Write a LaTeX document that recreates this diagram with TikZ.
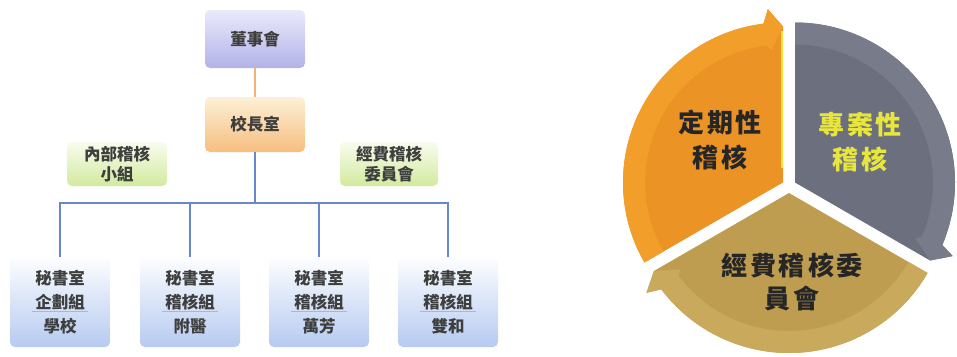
\documentclass[tikz,border=0pt]{standalone}
\usepackage{fontspec}
\newfontfamily\cjk{Noto Sans CJK TC}
\usetikzlibrary{calc}
\definecolor{txt}{RGB}{62,62,62}
\definecolor{boardT}{RGB}{234,234,252}
\definecolor{boardB}{RGB}{178,178,232}
\definecolor{prinT}{RGB}{253,240,214}
\definecolor{prinB}{RGB}{246,190,128}
\definecolor{grT}{RGB}{248,252,238}
\definecolor{grB}{RGB}{210,234,158}
\definecolor{blT}{RGB}{253,254,255}
\definecolor{blB}{RGB}{182,202,240}
\definecolor{lineO}{RGB}{244,178,120}
\definecolor{lineB}{RGB}{105,135,205}
\definecolor{sepC}{RGB}{170,182,215}
\definecolor{orIn}{RGB}{236,147,38}
\definecolor{orRim}{RGB}{242,158,42}
\definecolor{gyIn}{RGB}{108,112,126}
\definecolor{gyRim}{RGB}{120,124,138}
\definecolor{gdIn}{RGB}{190,157,80}
\definecolor{gdRim}{RGB}{201,169,92}
\definecolor{ylw}{RGB}{232,230,60}
\definecolor{ystripe}{RGB}{240,228,60}
\newcommand{\pieSeg}[5]{%
  \fill[#4] (#1) -- ($(#1)+(#2:160)$) arc[start angle=#2, end angle=#3+7, radius=160]
     -- ($(#1)+(#3+5:174)$) -- ($(#1)+(#3:156)$) -- cycle;
  \fill[#5] ($(#1)+(#2:160)$) arc[start angle=#2, end angle=#3+7, radius=160]
     -- ($(#1)+(#3+5:174)$) -- ($(#1)+(#3:156)$) -- ($(#1)+(#3+5:133)$)
     -- ($(#1)+(#3+7:138)$) arc[start angle=#3+7, end angle=#2, radius=138] -- cycle;
}
\tikzset{
  orgbox/.style={rounded corners=5pt, inner sep=0pt, align=center, text=txt,
    font=\cjk\bfseries\fontsize{16.5}{20}\selectfont, minimum width=100pt},
  topbox/.style={orgbox, top color=boardT, bottom color=boardB, minimum height=58pt},
  prinbox/.style={orgbox, top color=prinT, bottom color=prinB, minimum height=55pt},
  grbox/.style={orgbox, top color=grT, bottom color=grB, minimum height=44pt},
  secbox/.style={orgbox, top color=blT, bottom color=blB, minimum height=90pt,
    font=\cjk\bfseries\fontsize{16.5}{24}\selectfont},
  orline/.style={draw=lineO, line width=1.3pt},
  blline/.style={draw=lineB, line width=1.3pt},
  sepline/.style={draw=sepC, line width=0.6pt},
  pietext/.style={align=center, font=\cjk\bfseries\fontsize{26}{35}\selectfont, inner sep=0pt}
}
\begin{document}
\begin{tikzpicture}[x=1pt, y=-1pt]
\useasboundingbox (0,0) rectangle (957,356);
% org chart
\node[topbox] (board) at (255,39) {董事會};
\node[prinbox] (prin) at (255,124.5) {校長室};
\node[grbox] (inner) at (117,164) {內部稽核\\小組};
\node[grbox, minimum width=98pt] (fund) at (389,164) {經費稽核\\委員會};
\node[secbox] (s1) at (60,302) {秘書室\\企劃組\\學校};
\node[secbox] (s2) at (190,302) {秘書室\\稽核組\\附醫};
\node[secbox] (s3) at (319,302) {秘書室\\稽核組\\萬芳};
\node[secbox] (s4) at (448,302) {秘書室\\稽核組\\雙和};
\coordinate (hub) at (255,203);
\draw[orline] (board.south) -- (prin.north);
\draw[blline] (prin.south) -- (hub);
\foreach \s in {s1,s2,s3,s4}{
  \draw[blline] (hub) -| (\s.north);
  \draw[sepline] ([xshift=-28pt,yshift=-9pt]\s.center) -- ([xshift=28pt,yshift=-9pt]\s.center);
}
% cycle pie
\begin{scope}[shift={(789,186)}, x=1pt, y=1pt]
  \coordinate (Co) at (-6,3.5);
  \coordinate (Cg) at (6,3.5);
  \coordinate (Cd) at (0,-7);
  \pieSeg{Co}{210}{90}{orIn}{orRim}
  \pieSeg{Cg}{90}{-30}{gyIn}{gyRim}
  \pieSeg{Cd}{-30}{-150}{gdIn}{gdRim}
  \draw[ystripe, line width=1.6pt] ($(Co)+(-0.8,15)$) -- ($(Co)+(-0.8,152)$);
\end{scope}
\node[pietext, text=black!85] (t1) at (720,140) {定\kern3pt 期\kern3pt 性\\稽\kern3pt 核};
\node[pietext, text=ylw] (t2) at (860,142.5) {專\kern3pt 案\kern3pt 性\\稽\kern3pt 核};
\node[pietext, text=black!85, font=\cjk\bfseries\fontsize{26}{33}\selectfont] (t3) at (792,281.5) {經\kern3pt 費\kern3pt 稽\kern3pt 核\kern3pt 委\\員\kern3pt 會};
\end{tikzpicture}
\end{document}
